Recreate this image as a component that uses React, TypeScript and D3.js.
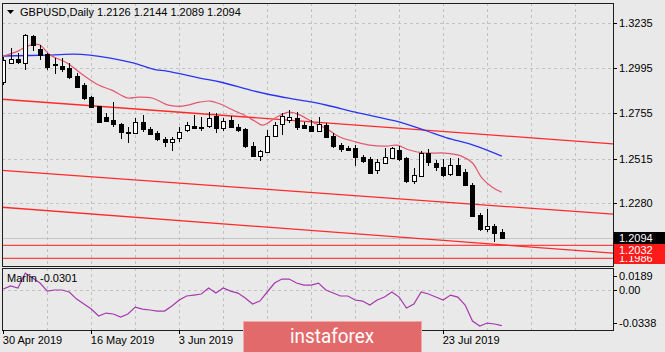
import * as d3 from 'd3';

// daily GBPUSD candles [open, high, low, close], 30 Apr 2019 .. 2 Aug 2019
const candles: [number, number, number, number][] = [
  [1.2922, 1.3054, 1.2906, 1.3038], [1.3023, 1.3102, 1.3017, 1.3044], [1.3044, 1.3076, 1.3017, 1.3028],
  [1.3023, 1.3177, 1.2985, 1.3171], [1.3166, 1.3171, 1.3086, 1.3118], [1.3097, 1.3118, 1.3038, 1.3065],
  [1.3070, 1.3076, 1.2985, 1.3001], [1.3017, 1.3049, 1.2964, 1.3012], [1.3007, 1.3049, 1.2975, 1.2991],
  [1.2996, 1.3023, 1.2938, 1.2948], [1.2953, 1.2969, 1.2890, 1.2895], [1.2906, 1.2916, 1.2826, 1.2837],
  [1.2842, 1.2847, 1.2784, 1.2789], [1.2794, 1.2797, 1.2704, 1.2709], [1.2736, 1.2757, 1.2709, 1.2715],
  [1.2720, 1.2815, 1.2683, 1.2699], [1.2699, 1.2704, 1.2619, 1.2656], [1.2659, 1.2683, 1.2598, 1.2654],
  [1.2651, 1.2730, 1.2646, 1.2709], [1.2709, 1.2746, 1.2656, 1.2672], [1.2672, 1.2683, 1.2640, 1.2646],
  [1.2651, 1.2661, 1.2608, 1.2619], [1.2619, 1.2630, 1.2576, 1.2603], [1.2603, 1.2630, 1.2555, 1.2619],
  [1.2624, 1.2683, 1.2603, 1.2656], [1.2667, 1.2709, 1.2656, 1.2693], [1.2688, 1.2746, 1.2672, 1.2677],
  [1.2685, 1.2736, 1.2661, 1.2680], [1.2688, 1.2762, 1.2677, 1.2730], [1.2741, 1.2757, 1.2651, 1.2677],
  [1.2677, 1.2730, 1.2661, 1.2715], [1.2720, 1.2741, 1.2677, 1.2683], [1.2683, 1.2699, 1.2656, 1.2667],
  [1.2672, 1.2677, 1.2571, 1.2582], [1.2582, 1.2603, 1.2523, 1.2529], [1.2529, 1.2561, 1.2502, 1.2555],
  [1.2550, 1.2667, 1.2545, 1.2635], [1.2635, 1.2709, 1.2630, 1.2693], [1.2699, 1.2757, 1.2640, 1.2741],
  [1.2720, 1.2773, 1.2704, 1.2736], [1.2730, 1.2762, 1.2667, 1.2683], [1.2693, 1.2709, 1.2672, 1.2680],
  [1.2688, 1.2720, 1.2656, 1.2661], [1.2661, 1.2736, 1.2656, 1.2699], [1.2693, 1.2704, 1.2624, 1.2630],
  [1.2635, 1.2651, 1.2571, 1.2582], [1.2587, 1.2598, 1.2550, 1.2566], [1.2571, 1.2582, 1.2555, 1.2561],
  [1.2571, 1.2587, 1.2476, 1.2523], [1.2523, 1.2534, 1.2492, 1.2502], [1.2513, 1.2523, 1.2433, 1.2438],
  [1.2454, 1.2513, 1.2433, 1.2497], [1.2492, 1.2571, 1.2487, 1.2523], [1.2518, 1.2576, 1.2513, 1.2571],
  [1.2561, 1.2582, 1.2502, 1.2513], [1.2518, 1.2523, 1.2385, 1.2396], [1.2396, 1.2465, 1.2380, 1.2428],
  [1.2422, 1.2555, 1.2417, 1.2545], [1.2545, 1.2566, 1.2476, 1.2497], [1.2492, 1.2507, 1.2449, 1.2470],
  [1.2470, 1.2513, 1.2417, 1.2428], [1.2433, 1.2518, 1.2422, 1.2481], [1.2481, 1.2518, 1.2422, 1.2428],
  [1.2444, 1.2460, 1.2369, 1.2375], [1.2375, 1.2385, 1.2205, 1.2210], [1.2215, 1.2226, 1.2130, 1.2141],
  [1.2141, 1.2247, 1.2125, 1.2157], [1.2157, 1.2168, 1.2072, 1.2120], [1.2126, 1.2144, 1.2089, 1.2094],
];

// moving averages: [bar index, price]
const fastMA: [number, number][] = [
  [0, 1.3060], [2, 1.3086], [3, 1.3107], [4.3, 1.3123], [5, 1.3118], [6.4, 1.3065], [8.7, 1.3023],
  [10.9, 1.2959], [13, 1.2906], [14.8, 1.2879], [17, 1.2837], [18.4, 1.2842], [20.3, 1.2837],
  [22.5, 1.2799], [24.4, 1.2794], [26.8, 1.2815], [28.2, 1.2821], [29.6, 1.2805], [31.3, 1.2773],
  [32.9, 1.2746], [34.3, 1.2715], [35.4, 1.2693], [37.3, 1.2736], [39, 1.2762], [40.5, 1.2746],
  [42.2, 1.2709], [44.2, 1.2672], [45.9, 1.2630], [48.2, 1.2603], [50, 1.2587], [52.3, 1.2582],
  [53.7, 1.2587], [55.4, 1.2561], [57.5, 1.2545], [60.2, 1.2545], [62.5, 1.2529], [64, 1.2492],
  [65.3, 1.2412], [66.7, 1.2364], [68, 1.2337],
];
const slowMA: [number, number][] = [
  [0, 1.3060], [6.4, 1.3065], [9.5, 1.3070], [11.8, 1.3065], [14.6, 1.3049], [17.7, 1.3023],
  [20.7, 1.2988], [22.3, 1.2980], [26.8, 1.2943], [29.6, 1.2922], [33.7, 1.2879], [36.6, 1.2853],
  [40.5, 1.2826], [44, 1.2800], [48, 1.2762], [54.1, 1.2709], [57.8, 1.2662], [60.5, 1.2626],
  [64.1, 1.2587], [68, 1.2529],
];

// drawn trend channel: anchors at bar 0 and bar 68
const trendLines: [number, number, number, number][] = [
  [0, 1.2830, 68, 1.2637],
  [0, 1.2453, 68, 1.2263],
  [0, 1.2257, 68, 1.2058],
];
const levels = [1.2055, 1.1986];

// Marlin oscillator, one value per bar
const marlin = [
  0.0010, 0.0036, 0.0019, 0.0146, 0.0104, 0.0061, -0.0007, 0.0002, 0.0002, -0.0015,
  -0.0075, -0.0117, -0.0160, -0.0219, -0.0194, -0.0202, -0.0228, -0.0202, -0.0143, -0.0160,
  -0.0168, -0.0177, -0.0177, -0.0134, -0.0083, -0.0049, -0.0041, -0.0032, 0.0019, -0.0024,
  0.0019, -0.0007, -0.0024, -0.0066, -0.0117, -0.0092, -0.0015, 0.0061, 0.0095, 0.0095,
  0.0061, 0.0044, 0.0044, 0.0061, 0.0002, -0.0024, -0.0049, -0.0049, -0.0083, -0.0092,
  -0.0126, -0.0083, -0.0058, -0.0015, -0.0058, -0.0151, -0.0117, -0.0015, -0.0032, -0.0058,
  -0.0083, -0.0041, -0.0058, -0.0126, -0.0262, -0.0304, -0.0279, -0.0287, -0.0301,
];

const priceTicks = ['1.3235', '1.2995', '1.2755', '1.2515', '1.2280'];
const oscTicks = ['0.0189', '0.00', '-0.0338'];
// labels of bars 36 and 48 sit under the watermark, only their ticks show
const dateTicks: [number, string][] = [
  [0, '30 Apr 2019'], [12, '16 May 2019'], [24, '3 Jun 2019'],
  [36, ''], [48, ''], [60, '23 Jul 2019'],
];
const priceTags: [string, string][] = [
  ['1.1986', '#ff1a1a'], ['1.2055', '#ff1a1a'], ['1.2032', '#ff1a1a'], ['1.2094', '#000'],
];

const W = 665;
const H = 352;
const L = 2, R = 613, T = 3, B = 266;
const OT = 268, OB = 330;
const FONT = '"Liberation Sans", Arial, sans-serif';

export default function App() {
  const x = d3.scaleLinear().domain([0, 68]).range([3.3, 501.8]);
  const y = d3.scaleLinear().domain([1.2280, 1.3235]).range([203, 23]);
  const yo = d3.scaleLinear().domain([-0.0338, 0.0189]).range([OB, OT]);
  const px = (v: number) => Math.round(v) + 0.5;

  const maLine = d3.line<[number, number]>()
    .x(d => x(d[0]))
    .y(d => y(d[1]))
    .curve(d3.curveCatmullRom);
  const oscLine = d3.line<number>()
    .x((_, i) => x(i))
    .y(d => yo(d));

  const gridIdx = d3.range(6, 90, 6).filter(i => x(i) < R);
  const lastClose = candles[candles.length - 1][3];

  const trendPath = (t: [number, number, number, number]) => {
    const f = d3.scaleLinear().domain([t[0], t[2]]).range([t[1], t[3]]);
    const i0 = x.invert(L), i1 = x.invert(R);
    return `M${L},${y(f(i0))}L${R},${y(f(i1))}`;
  };

  return (
    <svg width={W} height={H} style={{ position: 'absolute', left: 0, top: 0, background: '#e9e9e9' }}
      fontFamily={FONT}>
      <defs>
        <clipPath id="main"><rect x={L} y={T} width={R - L} height={B - T} /></clipPath>
        <clipPath id="osc"><rect x={L} y={OT} width={R - L} height={OB - OT} /></clipPath>
      </defs>
      <rect width={W} height={H} fill="#e9e9e9" />

      {/* grid */}
      <g stroke="#c2c2c2" strokeDasharray="3,3" strokeWidth={1}>
        {priceTicks.map(t => (
          <line key={t} x1={L} x2={R} y1={px(y(+t))} y2={px(y(+t))} />
        ))}
        <line x1={L} x2={R} y1={px(yo(0))} y2={px(yo(0))} />
        {gridIdx.map(i => (
          <g key={i}>
            <line x1={px(x(i))} x2={px(x(i))} y1={T} y2={B} />
            <line x1={px(x(i))} x2={px(x(i))} y1={OT} y2={OB} />
          </g>
        ))}
      </g>

      <g clipPath="url(#main)">
        {/* bid line */}
        <line x1={L} x2={R} y1={px(y(lastClose))} y2={px(y(lastClose))} stroke="#c6c6c6" />
        {levels.map(p => (
          <line key={p} x1={L} x2={R} y1={y(p)} y2={y(p)} stroke="#f44" strokeWidth={1.4} />
        ))}
        {trendLines.map((t, k) => (
          <path key={k} d={trendPath(t)} stroke="#ff2a2a" strokeWidth={1.3} fill="none" />
        ))}
        <path d={maLine(slowMA) || ''} stroke="#2b35f0" strokeWidth={1.3} fill="none" />
        <path d={maLine(fastMA) || ''} stroke="#e4576f" strokeWidth={1.2} fill="none" />

        {candles.map(([o, h, l, c], i) => {
          const cx = Math.round(x(i));
          const top = Math.round(y(Math.max(o, c)));
          const bot = Math.round(y(Math.min(o, c)));
          const bull = c > o;
          return (
            <g key={i}>
              <line x1={cx + 0.5} x2={cx + 0.5} y1={Math.round(y(h))} y2={Math.round(y(l))} stroke="#000" />
              <rect x={cx - 1.5} y={top + 0.5} width={4} height={Math.max(bot - top, 1)}
                fill={bull ? '#fff' : '#000'} stroke="#000" />
            </g>
          );
        })}
      </g>

      <g clipPath="url(#osc)">
        <path d={oscLine(marlin) || ''} stroke="#a43aac" strokeWidth={1.2} fill="none" />
      </g>

      {/* frames */}
      <g fill="none" stroke="#1e1e1e">
        <rect x={L + 0.5} y={T + 0.5} width={R - L} height={B - T} />
        <rect x={L + 0.5} y={OT + 0.5} width={R - L} height={OB - OT} />
      </g>

      {/* title */}
      <path d="M7,10L14,10L10.5,14Z" fill="#000" />
      <text x={20} y={16} fontSize={11} fill="#000">GBPUSD,Daily  1.2126 1.2144 1.2089 1.2094</text>
      <text x={7} y={282} fontSize={11} fill="#000">Marlin -0.0301</text>

      {/* right price axis */}
      {priceTicks.map(t => (
        <g key={t}>
          <line x1={R} x2={R + 4} y1={px(y(+t))} y2={px(y(+t))} stroke="#000" />
          <text x={619} y={y(+t) + 4} fontSize={11} fill="#000">{t}</text>
        </g>
      ))}
      {priceTags.map(([t, bg]) => (
        <g key={t}>
          <rect x={R + 1} y={Math.round(y(+t)) - 6} width={W - R - 1} height={12} fill={bg} />
          <text x={619} y={y(+t) + 4} fontSize={11} fill="#fff">{t}</text>
        </g>
      ))}

      {/* oscillator axis */}
      {oscTicks.map((t, k) => {
        const v = +t;
        const yy = k === 0 ? yo(v) + 8 : k === 2 ? yo(v) - 7 : yo(v);
        return (
          <g key={t}>
            <line x1={R} x2={R + 4} y1={px(yy)} y2={px(yy)} stroke="#000" />
            <text x={619} y={yy + 4} fontSize={11} fill="#000">{t}</text>
          </g>
        );
      })}

      {/* time axis */}
      {dateTicks.map(([i, s]) => (
        <g key={i}>
          <line x1={px(x(i))} x2={px(x(i))} y1={OB} y2={OB + 4} stroke="#000" />
          {s && <text x={x(i) - 0.5} y={344} fontSize={11} fill="#000">{s}</text>}
        </g>
      ))}

      {/* watermark */}
      <rect x={243.5} y={321.5} width={178} height={40} fill="#e36a6a" stroke="#efa9a9" />
      <text x={290} y={343} fontSize={20} fill="#fff" fontFamily='Roboto, "Open Sans", sans-serif'
        textLength={84} lengthAdjust="spacingAndGlyphs">instaforex</text>
    </svg>
  );
}
